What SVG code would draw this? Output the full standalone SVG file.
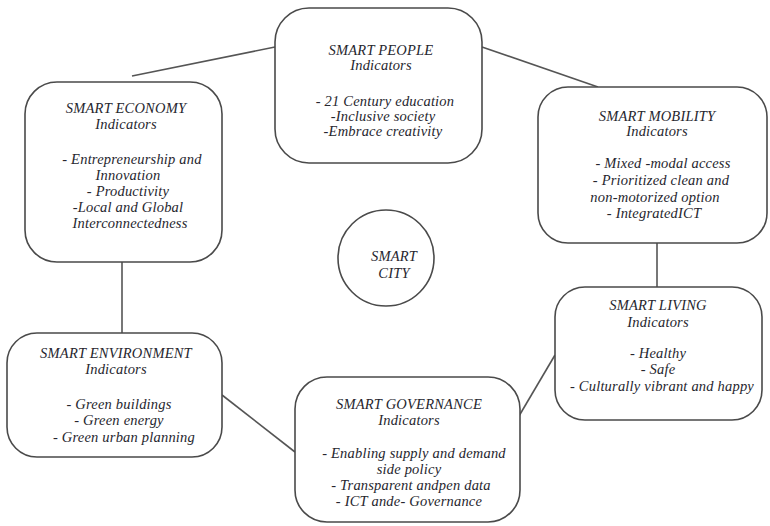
<svg xmlns="http://www.w3.org/2000/svg" width="770" height="526" viewBox="0 0 770 526">
<style>
.box{fill:#fff;stroke:#4a4a4a;stroke-width:1.6}
.con{stroke:#555;stroke-width:1.6;fill:none}
text{font-family:"Liberation Serif","Times New Roman",serif;font-style:italic;font-size:14.5px;letter-spacing:0.2px;fill:#26262e;text-anchor:middle}
</style>
<rect width="770" height="526" fill="#fff"/>
<g id="connectors">
<line class="con" x1="132" y1="76" x2="275" y2="47"/>
<line class="con" x1="482" y1="47" x2="598" y2="87"/>
<line class="con" x1="657" y1="243" x2="657" y2="287"/>
<line class="con" x1="555" y1="355" x2="519" y2="416"/>
<line class="con" x1="222" y1="395" x2="295" y2="452"/>
<line class="con" x1="122" y1="262" x2="122" y2="333"/>
</g>
<g id="smart-people">
<rect class="box" x="275" y="8" width="207" height="155" rx="34"/>
<text x="381" y="55">SMART PEOPLE</text>
<text x="381" y="70">Indicators</text>
<text x="385" y="106">- 21 Century education</text>
<text x="383" y="121">-Inclusive society</text>
<text x="383" y="136">-Embrace creativity</text>
</g>
<g id="smart-economy">
<rect class="box" x="25" y="82" width="197" height="180" rx="32"/>
<text x="126" y="113">SMART ECONOMY</text>
<text x="126" y="129">Indicators</text>
<text x="132" y="164">- Entrepreneurship and</text>
<text x="128" y="180">Innovation</text>
<text x="128" y="196">- Productivity</text>
<text x="128" y="212">-Local and Global</text>
<text x="130" y="228">Interconnectedness</text>
</g>
<g id="smart-mobility">
<rect class="box" x="538" y="87" width="229" height="156" rx="30"/>
<text x="657" y="121">SMART MOBILITY</text>
<text x="657" y="136">Indicators</text>
<text x="663" y="168">- Mixed -modal access</text>
<text x="661" y="185">- Prioritized clean and</text>
<text x="655" y="202">non-motorized option</text>
<text x="654" y="218">- IntegratedICT</text>
</g>
<g id="smart-city">
<circle class="box" cx="386" cy="258" r="48"/>
<text x="394" y="261">SMART</text>
<text x="394" y="278">CITY</text>
</g>
<g id="smart-living">
<rect class="box" x="555" y="287" width="207" height="133" rx="30"/>
<text x="658" y="310">SMART LIVING</text>
<text x="658" y="327">Indicators</text>
<text x="658" y="358">- Healthy</text>
<text x="658" y="374">- Safe</text>
<text x="662" y="391">- Culturally vibrant and happy</text>
</g>
<g id="smart-environment">
<rect class="box" x="7" y="333" width="215" height="124" rx="30"/>
<text x="116" y="358">SMART ENVIRONMENT</text>
<text x="116" y="374">Indicators</text>
<text x="119" y="409">- Green buildings</text>
<text x="119" y="425">- Green energy</text>
<text x="124" y="442">- Green urban planning</text>
</g>
<g id="smart-governance">
<rect class="box" x="295" y="377" width="225" height="145" rx="32"/>
<text x="409" y="409">SMART GOVERNANCE</text>
<text x="409" y="425">Indicators</text>
<text x="414" y="458">- Enabling supply and demand</text>
<text x="409" y="474">side policy</text>
<text x="411" y="490">- Transparent andpen data</text>
<text x="409" y="506">- ICT ande- Governance</text>
</g>
</svg>
